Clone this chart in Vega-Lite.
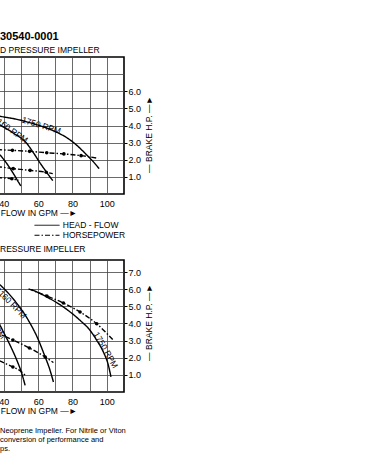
{
  "$schema": "https://vega.github.io/schema/vega-lite/v6.json",
  "background": "white",
  "padding": {"left": -2, "top": 29, "right": 0, "bottom": 0},
  "config": {
    "font": "Liberation Sans",
    "view": {"stroke": "black", "strokeWidth": 1.6},
    "axis": {"labelFont": "Liberation Sans", "titleFont": "Liberation Sans", "labelColor": "black", "titleColor": "black", "titleFontWeight": "normal"},
    "legend": {"labelFont": "Liberation Sans"}
  },
  "bounds": "flush",
  "spacing": 66,
  "resolve": {"scale": {"strokeDash": "independent"}, "legend": {"strokeDash": "independent"}},
  "title": {
    "text": ["Neoprene Impeller.  For Nitrile or Viton", "conversion of performance and", "ps."],
    "orient": "bottom", "anchor": "start", "frame": "bounds",
    "fontSize": 7.5, "fontWeight": "normal", "lineHeight": 9, "offset": 12, "dx": 2, "color": "black"
  },
  "datasets": {
    "top": [
      {"kind": "HEAD - FLOW", "rpm": "1750", "flow": 30, "value": 4.72, "marker": false},
      {"kind": "HEAD - FLOW", "rpm": "1750", "flow": 37.9, "value": 4.54, "marker": false},
      {"kind": "HEAD - FLOW", "rpm": "1750", "flow": 47.6, "value": 4.36, "marker": false},
      {"kind": "HEAD - FLOW", "rpm": "1750", "flow": 57.3, "value": 4.10, "marker": false},
      {"kind": "HEAD - FLOW", "rpm": "1750", "flow": 65, "value": 3.85, "marker": false},
      {"kind": "HEAD - FLOW", "rpm": "1750", "flow": 72, "value": 3.55, "marker": false},
      {"kind": "HEAD - FLOW", "rpm": "1750", "flow": 78, "value": 3.20, "marker": false},
      {"kind": "HEAD - FLOW", "rpm": "1750", "flow": 83, "value": 2.80, "marker": false},
      {"kind": "HEAD - FLOW", "rpm": "1750", "flow": 88.3, "value": 2.28, "marker": false},
      {"kind": "HEAD - FLOW", "rpm": "1750", "flow": 92, "value": 1.90, "marker": false},
      {"kind": "HEAD - FLOW", "rpm": "1750", "flow": 95.5, "value": 1.48, "marker": false},
      {"kind": "HEAD - FLOW", "rpm": "1160", "flow": 30, "value": 4.45, "marker": false},
      {"kind": "HEAD - FLOW", "rpm": "1160", "flow": 37.9, "value": 4.03, "marker": false},
      {"kind": "HEAD - FLOW", "rpm": "1160", "flow": 45.5, "value": 3.56, "marker": false},
      {"kind": "HEAD - FLOW", "rpm": "1160", "flow": 53.4, "value": 2.95, "marker": false},
      {"kind": "HEAD - FLOW", "rpm": "1160", "flow": 57.3, "value": 2.40, "marker": false},
      {"kind": "HEAD - FLOW", "rpm": "1160", "flow": 61.2, "value": 1.80, "marker": false},
      {"kind": "HEAD - FLOW", "rpm": "1160", "flow": 64.7, "value": 1.30, "marker": false},
      {"kind": "HEAD - FLOW", "rpm": "1160", "flow": 68.5, "value": 0.78, "marker": false},
      {"kind": "HEAD - FLOW", "rpm": "870", "flow": 32, "value": 2.65, "marker": false},
      {"kind": "HEAD - FLOW", "rpm": "870", "flow": 37.9, "value": 2.26, "marker": false},
      {"kind": "HEAD - FLOW", "rpm": "870", "flow": 41.8, "value": 1.77, "marker": false},
      {"kind": "HEAD - FLOW", "rpm": "870", "flow": 45.6, "value": 1.19, "marker": false},
      {"kind": "HEAD - FLOW", "rpm": "870", "flow": 48.5, "value": 0.70, "marker": false},
      {"kind": "HEAD - FLOW", "rpm": "870", "flow": 49.9, "value": 0.47, "marker": false},
      {"kind": "HORSEPOWER", "rpm": "1750", "flow": 30, "value": 2.63, "marker": false},
      {"kind": "HORSEPOWER", "rpm": "1750", "flow": 37.9, "value": 2.58, "marker": false},
      {"kind": "HORSEPOWER", "rpm": "1750", "flow": 45, "value": 2.55, "marker": true},
      {"kind": "HORSEPOWER", "rpm": "1750", "flow": 55, "value": 2.49, "marker": true},
      {"kind": "HORSEPOWER", "rpm": "1750", "flow": 65, "value": 2.41, "marker": true},
      {"kind": "HORSEPOWER", "rpm": "1750", "flow": 75, "value": 2.34, "marker": true},
      {"kind": "HORSEPOWER", "rpm": "1750", "flow": 85, "value": 2.24, "marker": true},
      {"kind": "HORSEPOWER", "rpm": "1750", "flow": 95, "value": 2.08, "marker": false},
      {"kind": "HORSEPOWER", "rpm": "1160", "flow": 30, "value": 1.65, "marker": false},
      {"kind": "HORSEPOWER", "rpm": "1160", "flow": 37.9, "value": 1.58, "marker": false},
      {"kind": "HORSEPOWER", "rpm": "1160", "flow": 45.5, "value": 1.48, "marker": true},
      {"kind": "HORSEPOWER", "rpm": "1160", "flow": 55.3, "value": 1.38, "marker": true},
      {"kind": "HORSEPOWER", "rpm": "1160", "flow": 64.7, "value": 1.27, "marker": true},
      {"kind": "HORSEPOWER", "rpm": "1160", "flow": 68.5, "value": 1.19, "marker": false},
      {"kind": "HORSEPOWER", "rpm": "870", "flow": 30, "value": 1.00, "marker": false},
      {"kind": "HORSEPOWER", "rpm": "870", "flow": 37.9, "value": 0.95, "marker": false},
      {"kind": "HORSEPOWER", "rpm": "870", "flow": 44.7, "value": 0.89, "marker": true},
      {"kind": "HORSEPOWER", "rpm": "870", "flow": 48.5, "value": 0.80, "marker": false}
    ],
    "bottom": [
      {"kind": "HEAD - FLOW", "rpm": "1750", "flow": 56, "value": 5.98, "marker": false},
      {"kind": "HEAD - FLOW", "rpm": "1750", "flow": 60, "value": 5.80, "marker": false},
      {"kind": "HEAD - FLOW", "rpm": "1750", "flow": 65.1, "value": 5.54, "marker": false},
      {"kind": "HEAD - FLOW", "rpm": "1750", "flow": 74.7, "value": 4.96, "marker": false},
      {"kind": "HEAD - FLOW", "rpm": "1750", "flow": 84.4, "value": 4.18, "marker": false},
      {"kind": "HEAD - FLOW", "rpm": "1750", "flow": 90.2, "value": 3.60, "marker": false},
      {"kind": "HEAD - FLOW", "rpm": "1750", "flow": 94.1, "value": 3.02, "marker": false},
      {"kind": "HEAD - FLOW", "rpm": "1750", "flow": 98.0, "value": 2.33, "marker": false},
      {"kind": "HEAD - FLOW", "rpm": "1750", "flow": 100.9, "value": 1.56, "marker": false},
      {"kind": "HEAD - FLOW", "rpm": "1750", "flow": 102.4, "value": 0.88, "marker": false},
      {"kind": "HEAD - FLOW", "rpm": "1160", "flow": 30, "value": 6.85, "marker": false},
      {"kind": "HEAD - FLOW", "rpm": "1160", "flow": 37.9, "value": 6.24, "marker": false},
      {"kind": "HEAD - FLOW", "rpm": "1160", "flow": 46.0, "value": 5.37, "marker": false},
      {"kind": "HEAD - FLOW", "rpm": "1160", "flow": 54.2, "value": 4.20, "marker": false},
      {"kind": "HEAD - FLOW", "rpm": "1160", "flow": 59.4, "value": 3.21, "marker": false},
      {"kind": "HEAD - FLOW", "rpm": "1160", "flow": 64.1, "value": 2.04, "marker": false},
      {"kind": "HEAD - FLOW", "rpm": "1160", "flow": 66.7, "value": 1.34, "marker": false},
      {"kind": "HEAD - FLOW", "rpm": "1160", "flow": 68.9, "value": 0.58, "marker": false},
      {"kind": "HEAD - FLOW", "rpm": "870", "flow": 34, "value": 4.60, "marker": false},
      {"kind": "HEAD - FLOW", "rpm": "870", "flow": 37.9, "value": 3.88, "marker": false},
      {"kind": "HEAD - FLOW", "rpm": "870", "flow": 39.8, "value": 3.50, "marker": false},
      {"kind": "HEAD - FLOW", "rpm": "870", "flow": 43.7, "value": 2.72, "marker": false},
      {"kind": "HEAD - FLOW", "rpm": "870", "flow": 47.6, "value": 1.85, "marker": false},
      {"kind": "HEAD - FLOW", "rpm": "870", "flow": 50.5, "value": 1.07, "marker": false},
      {"kind": "HEAD - FLOW", "rpm": "870", "flow": 52.4, "value": 0.39, "marker": false},
      {"kind": "HORSEPOWER", "rpm": "1750", "flow": 54.4, "value": 6.02, "marker": false},
      {"kind": "HORSEPOWER", "rpm": "1750", "flow": 65.1, "value": 5.60, "marker": true},
      {"kind": "HORSEPOWER", "rpm": "1750", "flow": 74.7, "value": 5.19, "marker": true},
      {"kind": "HORSEPOWER", "rpm": "1750", "flow": 84.4, "value": 4.67, "marker": true},
      {"kind": "HORSEPOWER", "rpm": "1750", "flow": 94.1, "value": 3.98, "marker": true},
      {"kind": "HORSEPOWER", "rpm": "1750", "flow": 103.8, "value": 3.02, "marker": false},
      {"kind": "HORSEPOWER", "rpm": "1160", "flow": 30, "value": 3.80, "marker": false},
      {"kind": "HORSEPOWER", "rpm": "1160", "flow": 37.9, "value": 3.38, "marker": false},
      {"kind": "HORSEPOWER", "rpm": "1160", "flow": 45.3, "value": 3.03, "marker": true},
      {"kind": "HORSEPOWER", "rpm": "1160", "flow": 54.9, "value": 2.57, "marker": true},
      {"kind": "HORSEPOWER", "rpm": "1160", "flow": 64.1, "value": 2.04, "marker": true},
      {"kind": "HORSEPOWER", "rpm": "1160", "flow": 68.9, "value": 1.72, "marker": false},
      {"kind": "HORSEPOWER", "rpm": "870", "flow": 32, "value": 2.10, "marker": false},
      {"kind": "HORSEPOWER", "rpm": "870", "flow": 37.9, "value": 1.80, "marker": false},
      {"kind": "HORSEPOWER", "rpm": "870", "flow": 45.3, "value": 1.46, "marker": true},
      {"kind": "HORSEPOWER", "rpm": "870", "flow": 50.0, "value": 1.20, "marker": false},
      {"kind": "HORSEPOWER", "rpm": "870", "flow": 52.4, "value": 0.98, "marker": false}
    ],
    "labelsTop": [
      {"label": "1750 RPM", "flow": 61.9, "value": 4.01},
      {"label": "1160 RPM", "flow": 44.1, "value": 3.77}
    ],
    "labelsBottom": [
      {"label": "1750 RPM", "flow": 99.5, "value": 2.45},
      {"label": "1160 RPM", "flow": 44.3, "value": 5.2},
      {"label": "870 RPM", "flow": 34.0, "value": 4.0}
    ]
  },
  "vconcat": [
    {
      "width": 125,
      "height": 137,
      "title": {
        "text": "30540-0001", "subtitle": "D PRESSURE IMPELLER",
        "anchor": "start", "frame": "group", "dx": 1,
        "font": "Liberation Sans", "fontSize": 11, "fontWeight": "bold", "color": "black",
        "subtitleFont": "Liberation Sans", "subtitleFontSize": 8.5, "subtitleColor": "black", "subtitlePadding": 4,
        "offset": 3
      },
      "layer": [
        {
          "data": {"name": "top"},
          "mark": {"type": "line", "clip": true, "interpolate": "monotone", "color": "black", "strokeWidth": 1.4},
          "encoding": {
            "x": {
              "field": "flow", "type": "quantitative",
              "scale": {"domain": [37.2, 110], "nice": false, "zero": false},
              "axis": {
                "values": [40, 50, 60, 70, 80, 90, 100], "tickCount": 12,
                "labelExpr": "datum.value % 20 == 0 ? datum.label : ''",
                "grid": true, "gridColor": "#444", "gridWidth": 0.8,
                "ticks": false, "domain": false,
                "labelFontSize": 9, "labelPadding": 5, "labelFlush": false, "labelOverlap": false,
                "title": "FLOW IN GPM —►", "titleFontSize": 8.5,
                "titleX": 1.25, "titleY": 18, "titleAlign": "left", "titleBaseline": "middle"
              }
            },
            "y": {
              "field": "value", "type": "quantitative",
              "scale": {"domain": [0, 8], "nice": false},
              "axis": {
                "orient": "right",
                "values": [1, 2, 3, 4, 5, 6, 7], "tickCount": 12,
                "labelExpr": "datum.value <= 6 ? format(datum.value, '.1f') : ''",
                "labelOverlap": false,
                "grid": true, "gridColor": "#444", "gridWidth": 0.8,
                "domain": false, "tickSize": 3,
                "tickColor": {"condition": {"test": "datum.value > 6", "value": "transparent"}, "value": "black"},
                "labelFontSize": 9, "labelPadding": 1,
                "title": "—  BRAKE H.P. —►", "titleFontSize": 8.5, "titleAngle": 270,
                "titleX": 24, "titleY": 77, "titleAlign": "center", "titleBaseline": "middle"
              }
            },
            "detail": {"field": "rpm"},
            "strokeDash": {
              "field": "kind", "type": "nominal",
              "scale": {"domain": ["HEAD - FLOW", "HORSEPOWER"], "range": [[1, 0], [5, 2, 1.5, 2]]},
              "legend": {
                "orient": "none", "legendX": 43.75, "legendY": 164, "title": null,
                "symbolType": "M-5,0H5", "symbolSize": 25, "symbolStrokeColor": "black", "symbolStrokeWidth": 1,
                "labelFontSize": 8.5, "labelColor": "black", "labelOffset": 11.5, "rowPadding": 1, "padding": 0
              }
            }
          }
        },
        {
          "data": {"name": "top"},
          "transform": [{"filter": "datum.marker"}],
          "mark": {"type": "point", "filled": true, "color": "black", "size": 13, "opacity": 1},
          "encoding": {
            "x": {"field": "flow", "type": "quantitative", "scale": {"domain": [37.2, 110], "nice": false, "zero": false}},
            "y": {"field": "value", "type": "quantitative", "scale": {"domain": [0, 8], "nice": false}}
          }
        },
        {
          "data": {"name": "labelsTop"},
          "transform": [{"filter": "datum.label == '1750 RPM'"}],
          "mark": {"type": "text", "clip": true, "angle": 17, "fontSize": 8.5, "color": "black", "align": "center", "baseline": "middle"},
          "encoding": {
            "x": {"field": "flow", "type": "quantitative", "scale": {"domain": [37.2, 110], "nice": false, "zero": false}},
            "y": {"field": "value", "type": "quantitative", "scale": {"domain": [0, 8], "nice": false}},
            "text": {"field": "label"}
          }
        },
        {
          "data": {"name": "labelsTop"},
          "transform": [{"filter": "datum.label == '1160 RPM'"}],
          "mark": {"type": "text", "clip": true, "angle": 35, "fontSize": 8.5, "color": "black", "align": "center", "baseline": "middle"},
          "encoding": {
            "x": {"field": "flow", "type": "quantitative", "scale": {"domain": [37.2, 110], "nice": false, "zero": false}},
            "y": {"field": "value", "type": "quantitative", "scale": {"domain": [0, 8], "nice": false}},
            "text": {"field": "label"}
          }
        }
      ]
    },
    {
      "width": 125,
      "height": 132,
      "title": {
        "text": "RESSURE IMPELLER", "anchor": "start", "frame": "group", "dx": 1,
        "font": "Liberation Sans", "fontSize": 8.5, "fontWeight": "normal", "color": "black", "offset": 7
      },
      "layer": [
        {
          "data": {"name": "bottom"},
          "mark": {"type": "line", "clip": true, "interpolate": "monotone", "color": "black", "strokeWidth": 1.4},
          "encoding": {
            "x": {
              "field": "flow", "type": "quantitative",
              "scale": {"domain": [37.2, 110], "nice": false, "zero": false},
              "axis": {
                "values": [40, 50, 60, 70, 80, 90, 100], "tickCount": 12,
                "labelExpr": "datum.value % 20 == 0 ? datum.label : ''",
                "grid": true, "gridColor": "#444", "gridWidth": 0.8,
                "ticks": false, "domain": false,
                "labelFontSize": 9, "labelPadding": 5, "labelFlush": false, "labelOverlap": false,
                "title": "FLOW IN GPM —►", "titleFontSize": 8.5,
                "titleX": 1.25, "titleY": 18, "titleAlign": "left", "titleBaseline": "middle"
              }
            },
            "y": {
              "field": "value", "type": "quantitative",
              "scale": {"domain": [0, 7.7], "nice": false},
              "axis": {
                "orient": "right",
                "values": [1, 2, 3, 4, 5, 6, 7], "tickCount": 12,
                "format": ".1f",
                "labelOverlap": false,
                "grid": true, "gridColor": "#444", "gridWidth": 0.8,
                "domain": false, "tickSize": 3, "tickColor": "black",
                "labelFontSize": 9, "labelPadding": 1,
                "title": "—  BRAKE H.P. —►", "titleFontSize": 8.5, "titleAngle": 270,
                "titleX": 24, "titleY": 62, "titleAlign": "center", "titleBaseline": "middle"
              }
            },
            "detail": {"field": "rpm"},
            "strokeDash": {
              "field": "kind", "type": "nominal",
              "scale": {"domain": ["HEAD - FLOW", "HORSEPOWER"], "range": [[1, 0], [5, 2, 1.5, 2]]},
              "legend": null
            }
          }
        },
        {
          "data": {"name": "bottom"},
          "transform": [{"filter": "datum.marker"}],
          "mark": {"type": "point", "filled": true, "color": "black", "size": 13, "opacity": 1},
          "encoding": {
            "x": {"field": "flow", "type": "quantitative", "scale": {"domain": [37.2, 110], "nice": false, "zero": false}},
            "y": {"field": "value", "type": "quantitative", "scale": {"domain": [0, 7.7], "nice": false}}
          }
        },
        {
          "data": {"name": "labelsBottom"},
          "transform": [{"filter": "datum.label == '1750 RPM'"}],
          "mark": {"type": "text", "clip": true, "angle": 60, "fontSize": 8.5, "color": "black", "align": "center", "baseline": "middle"},
          "encoding": {
            "x": {"field": "flow", "type": "quantitative", "scale": {"domain": [37.2, 110], "nice": false, "zero": false}},
            "y": {"field": "value", "type": "quantitative", "scale": {"domain": [0, 7.7], "nice": false}},
            "text": {"field": "label"}
          }
        },
        {
          "data": {"name": "labelsBottom"},
          "transform": [{"filter": "datum.label == '1160 RPM'"}],
          "mark": {"type": "text", "clip": true, "angle": 45, "fontSize": 8.5, "color": "black", "align": "center", "baseline": "middle"},
          "encoding": {
            "x": {"field": "flow", "type": "quantitative", "scale": {"domain": [37.2, 110], "nice": false, "zero": false}},
            "y": {"field": "value", "type": "quantitative", "scale": {"domain": [0, 7.7], "nice": false}},
            "text": {"field": "label"}
          }
        },
        {
          "data": {"name": "labelsBottom"},
          "transform": [{"filter": "datum.label == '870 RPM'"}],
          "mark": {"type": "text", "clip": true, "angle": 55, "fontSize": 8.5, "color": "black", "align": "center", "baseline": "middle"},
          "encoding": {
            "x": {"field": "flow", "type": "quantitative", "scale": {"domain": [37.2, 110], "nice": false, "zero": false}},
            "y": {"field": "value", "type": "quantitative", "scale": {"domain": [0, 7.7], "nice": false}},
            "text": {"field": "label"}
          }
        }
      ]
    }
  ]
}
